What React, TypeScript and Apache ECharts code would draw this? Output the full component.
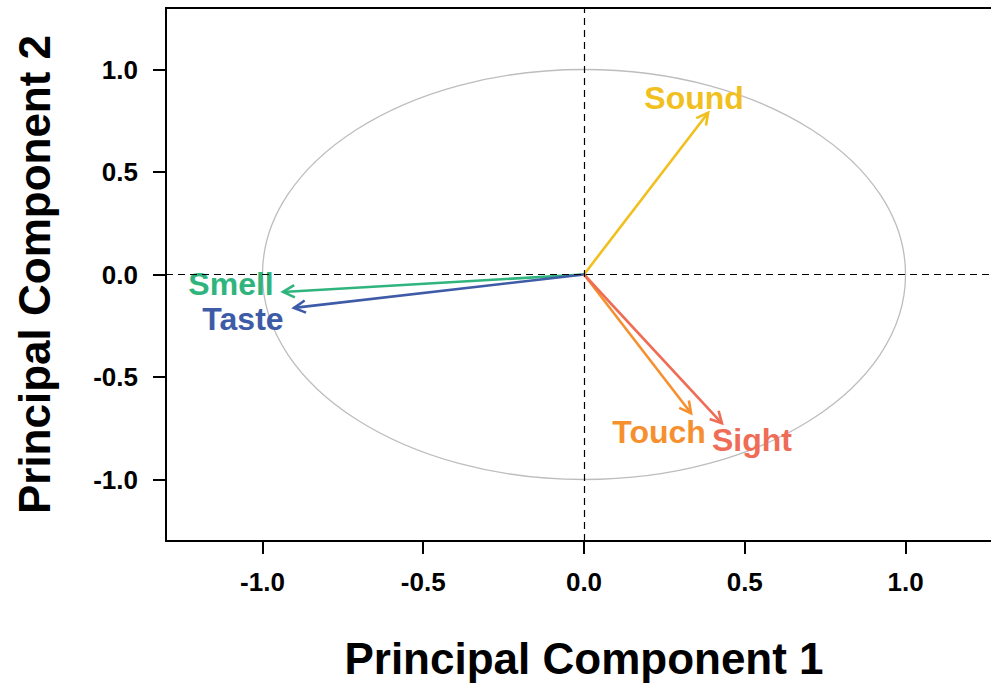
import React, { useEffect, useRef } from "react";
import * as echarts from "echarts";

// Loadings of each sense on the first two principal components
const variables = ["Sound", "Smell", "Taste", "Touch", "Sight"];
const pc1 = [0.386, -0.936, -0.902, 0.333, 0.429];
const pc2 = [0.789, -0.085, -0.163, -0.677, -0.726];
const colors = ["#F1BF1E", "#2FB47E", "#3E5BA8", "#F6902F", "#EF6C56"];
// Pixel offsets of each variable name from its arrow tip
const labelOffsets: [number, number][] = [
  [-14, -15],
  [-52, -8],
  [-51, 11],
  [-32, 19],
  [30, 17],
];
const tickValues = [-1.0, -0.5, 0.0, 0.5, 1.0];

const FONT = "'Liberation Sans', Arial, Helvetica, sans-serif";

export default function App() {
  const ref = useRef<HTMLDivElement>(null);

  useEffect(() => {
    if (!ref.current) return;
    const chart = echarts.init(ref.current, null, { renderer: "svg" });

    const axisCommon = {
      type: "value" as const,
      min: -1.3,
      max: 1.3,
      splitLine: { show: false },
      axisLine: { show: true, onZero: false, lineStyle: { color: "#000", width: 2 } },
      axisTick: {
        show: true,
        inside: false,
        length: 13,
        customValues: tickValues,
        lineStyle: { color: "#000", width: 2 },
      },
      axisLabel: {
        customValues: tickValues,
        margin: 28,
        fontFamily: FONT,
        fontWeight: "bold" as const,
        fontSize: 26,
        color: "#000",
        formatter: (v: number) => v.toFixed(1),
      },
      nameLocation: "middle" as const,
      nameTextStyle: { fontFamily: FONT, fontWeight: "bold" as const, fontSize: 44, color: "#000" },
    };

    chart.setOption({
      animation: false,
      backgroundColor: "#fff",
      grid: {
        left: 166,
        top: 8,
        right: 0,
        bottom: 143,
        show: true,
        borderColor: "#000",
        borderWidth: 2,
        backgroundColor: "transparent",
      },
      xAxis: { ...axisCommon, name: "Principal Component 1", nameGap: 95 },
      yAxis: { ...axisCommon, name: "Principal Component 2", nameGap: 110 },
      series: [
        {
          // unit correlation circle plus the zero reference lines
          type: "custom",
          data: [[0, 0, 1]],
          silent: true,
          renderItem: (params: any, api: any) => {
            const c = api.coord([api.value(0), api.value(1)]);
            const r = api.value(2);
            const px = api.coord([r, 0])[0] - c[0];
            const py = c[1] - api.coord([0, r])[1];
            return {
              type: "ellipse",
              shape: { cx: c[0], cy: c[1], rx: px, ry: py },
              style: { fill: "none", stroke: "#BDBDBD", lineWidth: 1.3 },
            };
          },
          markLine: {
            silent: true,
            symbol: ["none", "none"],
            label: { show: false },
            lineStyle: { color: "#000", type: [7, 5], width: 1.2 },
            data: [{ xAxis: 0 }, { yAxis: 0 }],
          },
          z: 1,
        },
        {
          // loading arrows with their variable names
          type: "custom",
          data: variables.map((name, i) => [pc1[i], pc2[i], i]),
          renderItem: (params: any, api: any) => {
            const i = api.value(2);
            const start = api.coord([0, 0]);
            const end = api.coord([api.value(0), api.value(1)]);
            const ang = Math.atan2(end[1] - start[1], end[0] - start[0]);
            const len = 13;
            const spread = (28 * Math.PI) / 180;
            const w1 = [end[0] - len * Math.cos(ang - spread), end[1] - len * Math.sin(ang - spread)];
            const w2 = [end[0] - len * Math.cos(ang + spread), end[1] - len * Math.sin(ang + spread)];
            const color = colors[i];
            const off = labelOffsets[i];
            return {
              type: "group",
              children: [
                {
                  type: "line",
                  shape: { x1: start[0], y1: start[1], x2: end[0], y2: end[1] },
                  style: { stroke: color, lineWidth: 2.6 },
                },
                {
                  type: "polyline",
                  shape: { points: [w1, end, w2] },
                  style: { stroke: color, lineWidth: 2.6, fill: "none" },
                },
                {
                  type: "text",
                  x: end[0] + off[0],
                  y: end[1] + off[1],
                  style: {
                    text: variables[i],
                    fill: color,
                    font: `bold 32px ${FONT}`,
                    align: "center",
                    verticalAlign: "middle",
                  },
                },
              ],
            };
          },
          z: 3,
        },
      ],
    });

    return () => chart.dispose();
  }, []);

  return (
    <div
      style={{
        position: "absolute",
        left: 0,
        top: 0,
        width: 991,
        height: 685,
        overflow: "hidden",
      }}
    >
      <div ref={ref} style={{ width: 1002, height: 685 }} />
    </div>
  );
}
